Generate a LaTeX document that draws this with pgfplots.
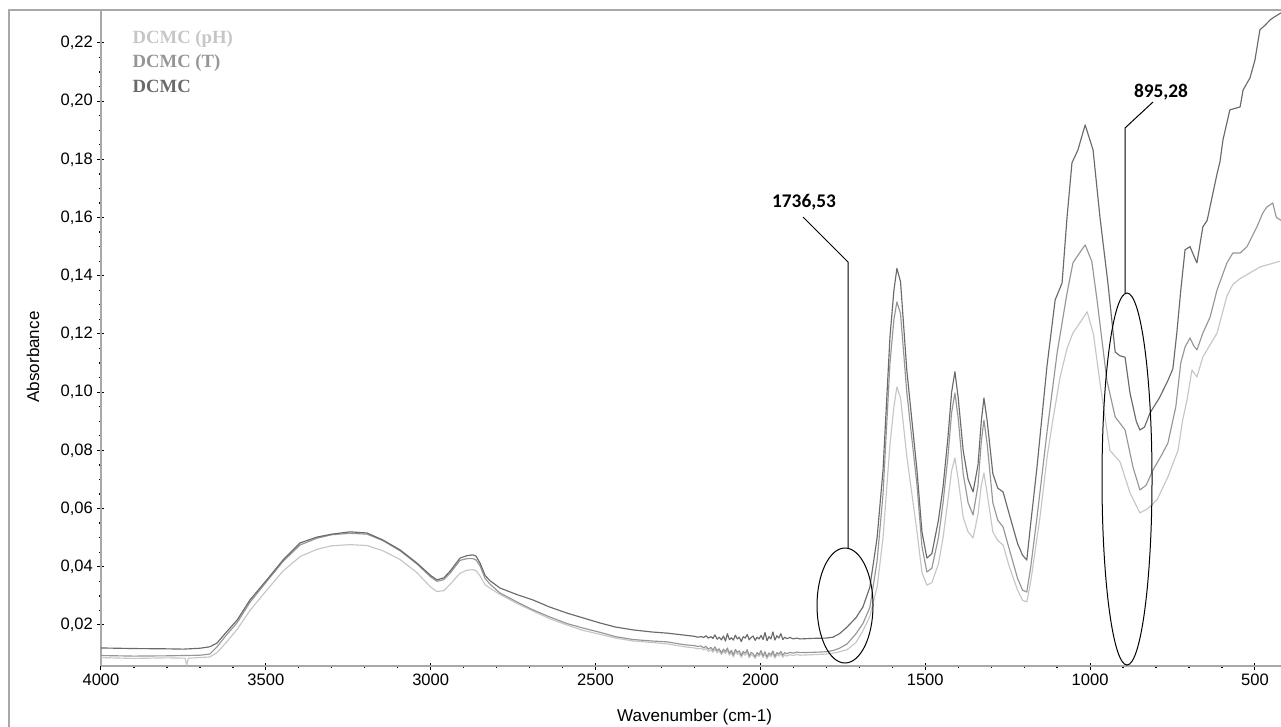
\documentclass[border=0pt]{standalone}
\usepackage{fontspec}
\setmainfont{Liberation Sans}
\newfontfamily\serifb{Liberation Serif}
\newfontfamily\annfont{Carlito}
\usepackage{pgfplots}
\pgfplotsset{compat=1.18}
\newlength\px \setlength\px{0.75pt}
\definecolor{cDark}{HTML}{6A6A6A}
\definecolor{cT}{HTML}{969696}
\definecolor{cPH}{HTML}{C6C6C6}
\definecolor{axgray}{HTML}{A8A8A8}
\begin{document}
\begin{tikzpicture}
\begin{axis}[
  at={(101\px,-666\px)}, anchor=south west,
  width=1180\px, height=656\px, scale only axis,
  x dir=reverse, xmin=421, xmax=4000, ymin=0.0059, ymax=0.2313,
  axis x line*=bottom, axis y line*=left,
  axis line style={draw=axgray, line width=2.5\px, -},
  xtick={500,1000,...,4000}, minor x tick num=4,
  ytick={0.02,0.04,...,0.22}, minor y tick num=3,
  tick align=center, major tick length=7\px, minor tick length=3\px,
  major tick style={black, line width=1\px},
  minor tick style={black, line width=1.3\px},
  tick label style={font=\fontsize{12.4}{14}\selectfont},
  /pgf/number format/assume math mode=true,
  yticklabel style={/pgf/number format/.cd, fixed, fixed zerofill, precision=2, use comma},
  xticklabel style={/pgf/number format/.cd, 1000 sep={}},
  xlabel={Wavenumber (cm-1)}, ylabel={Absorbance},
  label style={font=\fontsize{12.8}{14}\selectfont},
  xlabel style={at={(axis description cs:0.503,-0.078)}, anchor=center},
  ylabel style={at={(axis description cs:-0.0576,0.471)}, anchor=center},
  every axis plot/.append style={line width=1.15\px, line join=round},
]
% DCMC (pH)
\addplot[cPH] coordinates {
(4000,0.0088)(3900,0.0085)(3800,0.0087)(3745,0.0086)(3740,0.0062)(3735,0.0086)(3700,0.0088)(3670,0.0090)(3648,0.0105)(3620,0.0140)
(3587,0.0185)(3548,0.0250)(3497,0.0320)(3448,0.0385)(3396,0.0435)(3345,0.0460)(3300,0.0472)(3245,0.0476)
(3193,0.0473)(3145,0.0455)(3093,0.0425)(3042,0.0380)(3000,0.0330)(2981,0.0315)(2960,0.0318)(2941,0.0340)
(2911,0.0378)(2890,0.0388)(2872,0.0390)(2862,0.0386)(2850,0.0368)(2835,0.0338)(2820,0.0326)(2790,0.0305)(2740,0.0275)(2690,0.0248)
(2640,0.0222)(2587,0.0200)(2540,0.0182)(2487,0.0168)(2440,0.0155)(2386,0.0145)(2330,0.0140)(2283,0.0135)
(2230,0.0125)(2200,0.0121)(2190,0.0118)(2180,0.0120)(2172,0.0114)(2165,0.0119)(2158,0.0109)(2150,0.0115)
(2144,0.0106)(2138,0.0117)(2131,0.0104)(2125,0.0111)(2118,0.0098)(2112,0.0110)(2106,0.0101)(2100,0.0113)
(2094,0.0096)(2088,0.0106)(2082,0.0090)(2076,0.0108)(2070,0.0099)(2064,0.0104)(2058,0.0089)(2052,0.0102)
(2046,0.0096)(2040,0.0107)(2034,0.0087)(2028,0.0099)(2022,0.0094)(2016,0.0085)(2010,0.0098)(2004,0.0092)
(1998,0.0104)(1992,0.0088)(1986,0.0100)(1980,0.0084)(1974,0.0097)(1968,0.0091)(1962,0.0103)(1956,0.0086)
(1950,0.0098)(1944,0.0093)(1938,0.0101)(1932,0.0089)(1926,0.0097)(1920,0.0093)(1910,0.0098)(1900,0.0095)
(1890,0.0099)(1880,0.0096)(1840,0.0098)(1800,0.0100)(1780,0.0103)(1760,0.0108)(1737,0.0115)(1710,0.0140)(1689,0.0180)(1668,0.0230)
(1646,0.0330)(1628,0.0500)(1607,0.0820)(1595,0.0950)(1586,0.1018)(1575,0.0980)(1556,0.0780)(1525,0.0520)
(1510,0.0380)(1495,0.0337)(1480,0.0345)(1460,0.0410)(1446,0.0500)(1431,0.0630)(1420,0.0730)(1410,0.0774)
(1400,0.0700)(1385,0.0570)(1370,0.0520)(1355,0.0499)(1340,0.0580)(1330,0.0680)(1322,0.0722)(1312,0.0650)
(1295,0.0520)(1280,0.0490)(1264,0.0475)(1245,0.0400)(1220,0.0320)(1205,0.0285)(1192,0.0279)(1180,0.0350)
(1152,0.0570)(1130,0.0780)(1113,0.0904)(1091,0.1052)(1070,0.1150)(1052,0.1203)(1030,0.1240)(1009,0.1276)
(990,0.1200)(970,0.1032)(940,0.0800)(909,0.0760)(879,0.0654)(849,0.0585)(825,0.0600)(797,0.0630)
(764,0.0709)(733,0.0801)(720,0.0900)(706,0.0973)(691,0.1076)(676,0.1052)(658,0.1121)(615,0.1203)
(585,0.1330)(567,0.1370)(545,0.1390)(515,0.1410)(485,0.1430)(454,0.1440)(424,0.1450)
};
% DCMC (T)
\addplot[cT] coordinates {
(4000,0.0095)(3900,0.0093)(3800,0.0094)(3700,0.0096)(3670,0.0100)(3648,0.0125)(3620,0.0165)(3587,0.0208)
(3548,0.0278)(3497,0.0350)(3448,0.0418)(3396,0.0475)(3345,0.0498)(3300,0.0510)(3245,0.0515)(3193,0.0512)
(3145,0.0490)(3093,0.0455)(3042,0.0410)(3000,0.0365)(2981,0.0350)(2960,0.0356)(2941,0.0378)(2911,0.0422)
(2890,0.0428)(2872,0.0428)(2862,0.0423)(2850,0.0402)(2835,0.0360)(2820,0.0340)(2790,0.0310)(2740,0.0280)(2690,0.0252)(2640,0.0228)
(2587,0.0205)(2540,0.0190)(2487,0.0175)(2440,0.0160)(2386,0.0150)(2330,0.0145)(2283,0.0142)(2230,0.0132)
(2200,0.0129)(2190,0.0126)(2180,0.0128)(2172,0.0121)(2165,0.0127)(2158,0.0117)(2150,0.0123)(2144,0.0113)
(2138,0.0125)(2131,0.0111)(2125,0.0118)(2118,0.0104)(2112,0.0117)(2106,0.0108)(2100,0.0121)(2094,0.0102)
(2088,0.0113)(2082,0.0096)(2076,0.0116)(2070,0.0106)(2064,0.0111)(2058,0.0095)(2052,0.0109)(2046,0.0103)
(2040,0.0115)(2034,0.0093)(2028,0.0106)(2022,0.0101)(2016,0.0091)(2010,0.0105)(2004,0.0098)(1998,0.0112)
(1992,0.0094)(1986,0.0108)(1980,0.0090)(1974,0.0104)(1968,0.0097)(1962,0.0111)(1956,0.0092)(1950,0.0105)
(1944,0.0100)(1938,0.0109)(1932,0.0096)(1926,0.0105)(1920,0.0101)(1910,0.0106)(1900,0.0103)(1890,0.0107)
(1880,0.0105)(1840,0.0106)(1800,0.0108)(1780,0.0112)(1760,0.0120)(1737,0.0135)(1710,0.0170)(1689,0.0205)(1668,0.0260)(1646,0.0420)
(1628,0.0650)(1607,0.1100)(1595,0.1250)(1586,0.1310)(1575,0.1270)(1556,0.1000)(1525,0.0680)(1510,0.0470)
(1495,0.0382)(1480,0.0395)(1460,0.0500)(1446,0.0620)(1431,0.0780)(1420,0.0930)(1410,0.0997)(1400,0.0910)
(1385,0.0720)(1370,0.0620)(1355,0.0578)(1340,0.0680)(1330,0.0830)(1322,0.0904)(1312,0.0820)(1295,0.0620)
(1280,0.0560)(1264,0.0537)(1245,0.0460)(1220,0.0360)(1205,0.0320)(1192,0.0313)(1180,0.0400)(1161,0.0570)
(1131,0.0860)(1100,0.1135)(1070,0.1340)(1052,0.1444)(1040,0.1465)(1015,0.1506)(995,0.1450)(979,0.1317)
(949,0.1040)(924,0.0915)(894,0.0870)(870,0.0743)(849,0.0664)(830,0.0680)(809,0.0733)(785,0.0780)
(764,0.0825)(740,0.0950)(725,0.1100)(712,0.1155)(697,0.1186)(686,0.1160)(676,0.1145)(658,0.1203)
(636,0.1258)(615,0.1351)(585,0.1444)(567,0.1478)(545,0.1478)(524,0.1500)(494,0.1568)(476,0.1616)
(464,0.1636)(446,0.1650)(435,0.1600)(421,0.1590)
};
% DCMC
\addplot[cDark] coordinates {
(4000,0.0121)(3900,0.0119)(3800,0.0118)(3750,0.0117)(3700,0.0120)(3670,0.0125)(3648,0.0138)(3620,0.0175)
(3587,0.0217)(3548,0.0286)(3497,0.0355)(3448,0.0423)(3396,0.0482)(3345,0.0502)(3300,0.0512)(3245,0.0520)
(3193,0.0516)(3145,0.0492)(3093,0.0458)(3042,0.0413)(3000,0.0370)(2981,0.0355)(2960,0.0362)(2941,0.0385)
(2911,0.0430)(2890,0.0438)(2872,0.0441)(2862,0.0436)(2850,0.0412)(2835,0.0370)(2820,0.0352)(2790,0.0327)(2740,0.0305)(2690,0.0286)
(2640,0.0262)(2587,0.0241)(2540,0.0225)(2487,0.0207)(2440,0.0193)(2386,0.0183)(2330,0.0176)(2283,0.0172)
(2230,0.0165)(2200,0.0161)(2190,0.0158)(2180,0.0160)(2172,0.0157)(2165,0.0163)(2158,0.0155)(2150,0.0160)
(2144,0.0154)(2138,0.0166)(2131,0.0151)(2125,0.0158)(2118,0.0149)(2112,0.0162)(2106,0.0145)(2100,0.0170)
(2094,0.0150)(2088,0.0156)(2082,0.0148)(2076,0.0165)(2070,0.0152)(2064,0.0158)(2058,0.0143)(2052,0.0160)
(2046,0.0155)(2040,0.0167)(2034,0.0149)(2028,0.0157)(2022,0.0162)(2016,0.0147)(2010,0.0158)(2004,0.0152)
(1998,0.0164)(1992,0.0150)(1986,0.0174)(1980,0.0146)(1974,0.0160)(1968,0.0152)(1962,0.0176)(1956,0.0148)
(1950,0.0163)(1944,0.0155)(1938,0.0170)(1932,0.0150)(1926,0.0158)(1920,0.0153)(1910,0.0157)(1900,0.0152)
(1890,0.0155)(1880,0.0152)(1840,0.0154)(1800,0.0155)(1780,0.0158)(1760,0.0170)(1737,0.0193)(1710,0.0225)(1689,0.0262)(1668,0.0330)
(1646,0.0500)(1628,0.0733)(1607,0.1190)(1595,0.1350)(1586,0.1425)(1575,0.1380)(1556,0.1076)(1525,0.0730)
(1510,0.0520)(1495,0.0430)(1480,0.0445)(1460,0.0560)(1446,0.0674)(1431,0.0846)(1420,0.1000)(1410,0.1070)
(1400,0.0980)(1385,0.0800)(1370,0.0700)(1355,0.0657)(1340,0.0750)(1330,0.0900)(1322,0.0980)(1312,0.0900)
(1295,0.0720)(1280,0.0670)(1264,0.0657)(1245,0.0580)(1220,0.0480)(1205,0.0440)(1192,0.0423)(1180,0.0550)
(1161,0.0743)(1131,0.1087)(1106,0.1317)(1085,0.1375)(1070,0.1600)(1055,0.1788)(1037,0.1832)(1015,0.1918)
(991,0.1832)(970,0.1600)(946,0.1375)(924,0.1138)(910,0.1125)(894,0.1120)(879,0.0997)(860,0.0900)
(849,0.0870)(835,0.0880)(818,0.0929)(790,0.0980)(764,0.1040)(749,0.1080)(737,0.1203)(725,0.1350)
(712,0.1489)(697,0.1500)(686,0.1470)(676,0.1444)(658,0.1568)(645,0.1590)(615,0.1750)(606,0.1792)
(597,0.1867)(576,0.1970)(560,0.1975)(545,0.1980)(536,0.2038)(515,0.2080)(500,0.2141)(485,0.2245)
(470,0.2260)(454,0.2279)(440,0.2290)(421,0.2303)
};
\node[anchor=west, text=cPH, font=\serifb\bfseries\fontsize{14}{16}\selectfont] at (axis description cs:0.0229,0.9558) {DCMC (pH)};
\node[anchor=west, text=cT, font=\serifb\bfseries\fontsize{14}{16}\selectfont] at (axis description cs:0.0229,0.9192) {DCMC (T)};
\node[anchor=west, text=cDark, font=\serifb\bfseries\fontsize{14}{16}\selectfont] at (axis description cs:0.0229,0.8841) {DCMC};
\end{axis}
% frame
\draw[axgray, line width=1.6\px] (9\px,-727\px) -- (9\px,-10\px) -- (1281\px,-10\px);
% annotations
\draw[black, line width=1\px] (845\px,-605.5\px) ellipse [x radius=28\px, y radius=57.5\px];
\draw[black, line width=1\px] (1127\px,-479\px) ellipse [x radius=25\px, y radius=186\px];
\draw[black, line width=1\px] (803\px,-217\px) -- (848\px,-262\px) -- (848\px,-548\px);
\draw[black, line width=1\px] (1153\px,-102\px) -- (1125\px,-128\px) -- (1125\px,-293\px);
\node[font=\annfont\bfseries\fontsize{14.5}{16}\selectfont] at (804\px,-202\px) {1736,53};
\node[font=\annfont\bfseries\fontsize{14.5}{16}\selectfont] at (1161\px,-92\px) {895,28};
\pgfresetboundingbox
\path[use as bounding box] (0,0) rectangle (1281\px,-727\px);
\end{tikzpicture}
\end{document}
